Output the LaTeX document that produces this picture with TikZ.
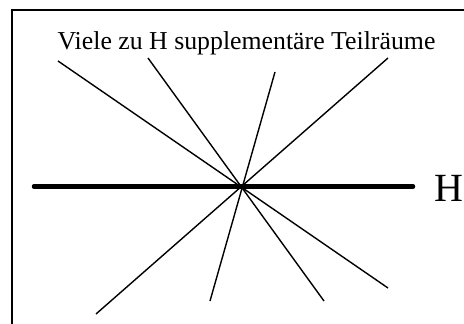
\documentclass[tikz,border=0pt]{standalone}
\usepackage{fontspec}
\setmainfont{Liberation Serif}
\tikzset{
  frameline/.style={line width=2pt},
  subspace/.style={line width=1.4pt},
  hyper/.style={line width=4.5pt, line cap=round},
  lbl/.style={inner sep=0pt, font=\fontsize{25.8}{30}\selectfont},
  hlbl/.style={inner sep=0pt, font=\fontsize{40}{48}\selectfont}
}
\begin{document}
\begin{tikzpicture}[x=1pt,y=-1pt]
\useasboundingbox (0,0) rectangle (464,324);
\fill[white] (0,0) rectangle (464,324);
% frame (only top and left edges visible)
\coordinate (fbl) at (12,330);
\coordinate (ftl) at (12,10);
\coordinate (ftr) at (470,10);
\draw[frameline] (fbl) -- (ftl) -- (ftr);
% title
\node[lbl, anchor=base] (title) at (246.5,49.3) {Viele zu H supplementäre Teilräume};
% subspaces through the centre
\coordinate (O) at (242,186.5);
\coordinate (a1) at (58,61);   \coordinate (b1) at (388,288);
\coordinate (a2) at (148,58);  \coordinate (b2) at (324,301);
\coordinate (a3) at (275,72);  \coordinate (b3) at (210,301);
\coordinate (a4) at (388,58);  \coordinate (b4) at (96,314);
\draw[subspace] (a1) -- (b1);
\draw[subspace] (a2) -- (b2);
\draw[subspace] (a3) -- (b3);
\draw[subspace] (a4) -- (b4);
% hyperplane H
\coordinate (hl) at (34,186.5);
\coordinate (hr) at (413,186.5);
\draw[hyper] (hl) -- (hr);
\node[hlbl, anchor=base west] (H) at (434.5,201.7) {H};
\end{tikzpicture}
\end{document}
